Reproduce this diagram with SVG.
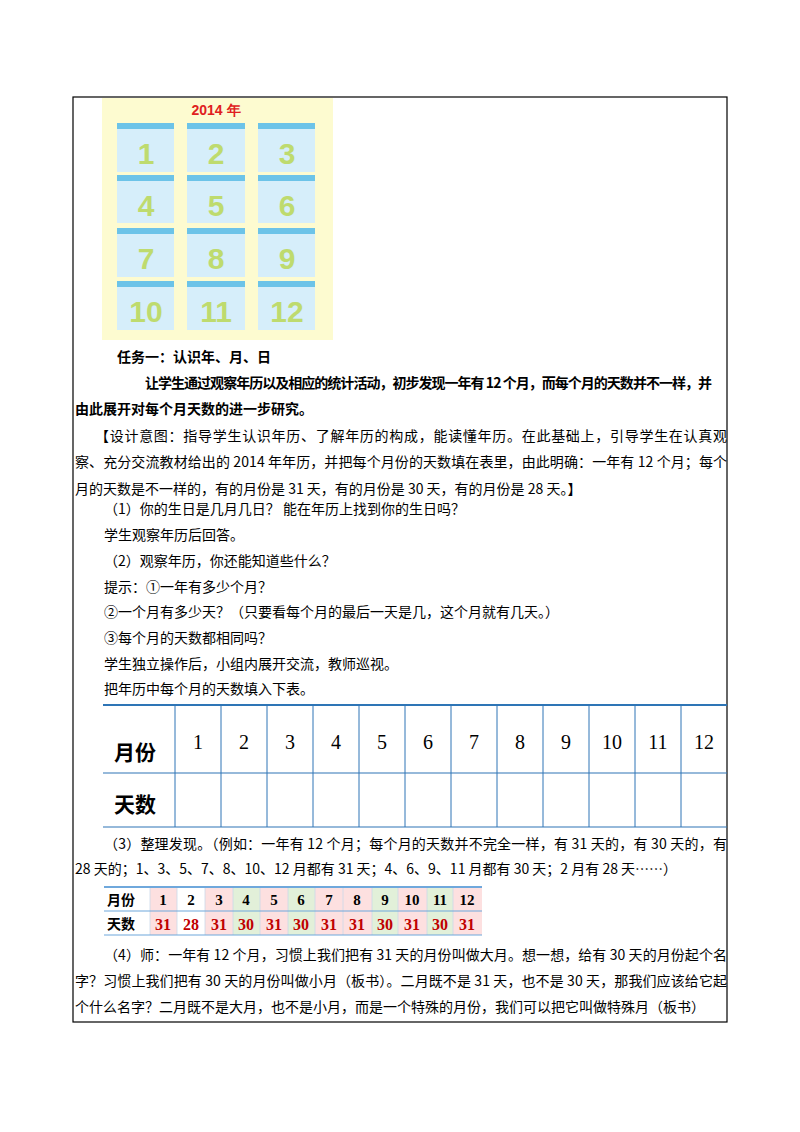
<svg xmlns="http://www.w3.org/2000/svg" width="800" height="1132" viewBox="0 0 800 1132">
<style>
.t{font-family:"Noto Sans CJK SC","Liberation Sans",sans-serif;font-size:14px;fill:#000}
.b{font-weight:bold}
.n{font-family:"Liberation Serif",serif;font-size:20px;text-anchor:middle}
.s{font-family:"Liberation Serif",serif;font-size:15px;font-weight:bold;text-anchor:middle}
.r{font-family:"Liberation Serif",serif;font-size:16px;font-weight:bold;fill:#c00000;text-anchor:middle}
.cal{fill:#d6eefa}
.hd{fill:#6cc3e8}
.g{font-family:"Liberation Sans",sans-serif;font-size:30px;font-weight:bold;fill:#b5d334;text-anchor:middle;opacity:.7}
</style>
<rect width="800" height="1132" fill="#fff"/>
<rect x="73" y="97" width="654" height="925" fill="none" stroke="#000" stroke-width="1.2"/>
<g id="calendar">
<rect x="102" y="98" width="231" height="242" fill="#fdfbd0"/>
<text x="216" y="115" font-family="Liberation Sans,sans-serif" font-size="14" font-weight="bold" fill="#e02020" text-anchor="middle">2014 年</text>
<g id="months">
<rect class="cal" x="117" y="123" width="57" height="49"/><rect class="hd" x="117" y="123" width="57" height="6"/>
<rect class="cal" x="187" y="123" width="58" height="49"/><rect class="hd" x="187" y="123" width="58" height="6"/>
<rect class="cal" x="258" y="123" width="57" height="49"/><rect class="hd" x="258" y="123" width="57" height="6"/>
<rect class="cal" x="117" y="175" width="57" height="48"/><rect class="hd" x="117" y="175" width="57" height="6"/>
<rect class="cal" x="187" y="175" width="58" height="48"/><rect class="hd" x="187" y="175" width="58" height="6"/>
<rect class="cal" x="258" y="175" width="57" height="48"/><rect class="hd" x="258" y="175" width="57" height="6"/>
<rect class="cal" x="117" y="228" width="57" height="49"/><rect class="hd" x="117" y="228" width="57" height="6"/>
<rect class="cal" x="187" y="228" width="58" height="49"/><rect class="hd" x="187" y="228" width="58" height="6"/>
<rect class="cal" x="258" y="228" width="57" height="49"/><rect class="hd" x="258" y="228" width="57" height="6"/>
<rect class="cal" x="117" y="281" width="57" height="49"/><rect class="hd" x="117" y="281" width="57" height="6"/>
<rect class="cal" x="187" y="281" width="58" height="49"/><rect class="hd" x="187" y="281" width="58" height="6"/>
<rect class="cal" x="258" y="281" width="57" height="49"/><rect class="hd" x="258" y="281" width="57" height="6"/>
<text class="g" x="146" y="164">1</text><text class="g" x="216" y="164">2</text><text class="g" x="287" y="164">3</text>
<text class="g" x="146" y="216">4</text><text class="g" x="216" y="216">5</text><text class="g" x="287" y="216">6</text>
<text class="g" x="146" y="269">7</text><text class="g" x="216" y="269">8</text><text class="g" x="287" y="269">9</text>
<text class="g" x="146" y="322">10</text><text class="g" x="216" y="322">11</text><text class="g" x="287" y="322">12</text>
</g>
</g>
<g id="text1">
<text class="t b" x="117" y="362">任务一：认识年、月、日</text>
<text class="t b" x="145" y="388" textLength="567">让学生通过观察年历以及相应的统计活动，初步发现一年有 12 个月，而每个月的天数并不一样，并</text>
<text class="t b" x="75" y="414">由此展开对每个月天数的进一步研究。</text>
<text class="t" x="95" y="441" textLength="632">【设计意图：指导学生认识年历、了解年历的构成，能读懂年历。在此基础上，引导学生在认真观</text>
<text class="t" x="75" y="467" textLength="652">察、充分交流教材给出的 2014 年年历，并把每个月份的天数填在表里，由此明确：一年有 12 个月；每个</text>
<text class="t" x="75" y="494">月的天数是不一样的，有的月份是 31 天，有的月份是 30 天，有的月份是 28 天。】</text>
<text class="t" x="104" y="514">（1）你的生日是几月几日？ 能在年历上找到你的生日吗？</text>
<text class="t" x="104" y="540">学生观察年历后回答。</text>
<text class="t" x="104" y="566">（2）观察年历，你还能知道些什么？</text>
<text class="t" x="104" y="592">提示：①一年有多少个月？</text>
<text class="t" x="104" y="617">②一个月有多少天？（只要看每个月的最后一天是几，这个月就有几天。）</text>
<text class="t" x="104" y="643">③每个月的天数都相同吗？</text>
<text class="t" x="104" y="669">学生独立操作后，小组内展开交流，教师巡视。</text>
<text class="t" x="104" y="694">把年历中每个月的天数填入下表。</text>
</g>
<g id="table1">
<line x1="103" y1="705" x2="727" y2="705" stroke="#2e75b6" stroke-width="2"/>
<line x1="103" y1="773" x2="727" y2="773" stroke="#2e75b6" stroke-width="1.2"/>
<line x1="103" y1="827" x2="727" y2="827" stroke="#2e75b6" stroke-width="1.2"/>
<g stroke="#2e75b6" stroke-width="1">
<line x1="175" y1="705" x2="175" y2="827"/><line x1="221" y1="705" x2="221" y2="827"/><line x1="267" y1="705" x2="267" y2="827"/><line x1="313" y1="705" x2="313" y2="827"/><line x1="359" y1="705" x2="359" y2="827"/><line x1="405" y1="705" x2="405" y2="827"/><line x1="451" y1="705" x2="451" y2="827"/><line x1="497" y1="705" x2="497" y2="827"/><line x1="543" y1="705" x2="543" y2="827"/><line x1="589" y1="705" x2="589" y2="827"/><line x1="635" y1="705" x2="635" y2="827"/><line x1="681" y1="705" x2="681" y2="827"/>
</g>
<text class="t b" x="114" y="760" style="font-size:21px">月份</text>
<text class="t b" x="114" y="812" style="font-size:21px">天数</text>
<text class="n" x="198" y="749">1</text><text class="n" x="244" y="749">2</text><text class="n" x="290" y="749">3</text><text class="n" x="336" y="749">4</text><text class="n" x="382" y="749">5</text><text class="n" x="428" y="749">6</text><text class="n" x="474" y="749">7</text><text class="n" x="520" y="749">8</text><text class="n" x="566" y="749">9</text><text class="n" x="612" y="749">10</text><text class="n" x="658" y="749">11</text><text class="n" x="704" y="749">12</text>
</g>
<g id="text2">
<text class="t" x="104" y="849" textLength="623">（3）整理发现。（例如：一年有 12 个月；每个月的天数并不完全一样，有 31 天的，有 30 天的，有</text>
<text class="t" x="75" y="874">28 天的；1、3、5、7、8、10、12 月都有 31 天；4、6、9、11 月都有 30 天；2 月有 28 天……）</text>
</g>
<g id="table2">
<rect x="150" y="888" width="27" height="47" fill="#fde0e0"/>
<rect x="205" y="888" width="28" height="47" fill="#fde0e0"/>
<rect x="233" y="888" width="27" height="47" fill="#e2f0d9"/>
<rect x="260" y="888" width="28" height="47" fill="#fde0e0"/>
<rect x="288" y="888" width="27" height="47" fill="#e2f0d9"/>
<rect x="315" y="888" width="57" height="47" fill="#fde0e0"/>
<rect x="372" y="888" width="26" height="47" fill="#e2f0d9"/>
<rect x="398" y="888" width="29" height="47" fill="#fde0e0"/>
<rect x="427" y="888" width="26" height="47" fill="#e2f0d9"/>
<rect x="453" y="888" width="29" height="47" fill="#fde0e0"/>
<g stroke="#c9d9ea" stroke-width="0.8">
<line x1="150" y1="888" x2="150" y2="935"/><line x1="177" y1="888" x2="177" y2="935"/><line x1="205" y1="888" x2="205" y2="935"/><line x1="233" y1="888" x2="233" y2="935"/><line x1="260" y1="888" x2="260" y2="935"/><line x1="288" y1="888" x2="288" y2="935"/><line x1="315" y1="888" x2="315" y2="935"/><line x1="343" y1="888" x2="343" y2="935"/><line x1="372" y1="888" x2="372" y2="935"/><line x1="398" y1="888" x2="398" y2="935"/><line x1="427" y1="888" x2="427" y2="935"/><line x1="453" y1="888" x2="453" y2="935"/>
</g>
<line x1="104" y1="887" x2="482" y2="887" stroke="#6fa8dc" stroke-width="2"/>
<line x1="104" y1="911" x2="482" y2="911" stroke="#6fa8dc" stroke-width="1.2"/>
<line x1="104" y1="935" x2="482" y2="935" stroke="#6fa8dc" stroke-width="1.2"/>
<text class="t b" x="107" y="905">月份</text>
<text class="t b" x="107" y="929">天数</text>
<text class="s" x="163" y="905">1</text><text class="s" x="191" y="905">2</text><text class="s" x="219" y="905">3</text><text class="s" x="246" y="905">4</text><text class="s" x="274" y="905">5</text><text class="s" x="301" y="905">6</text><text class="s" x="329" y="905">7</text><text class="s" x="357" y="905">8</text><text class="s" x="385" y="905">9</text><text class="s" x="412" y="905">10</text><text class="s" x="440" y="905">11</text><text class="s" x="467" y="905">12</text>
<text class="r" x="163" y="930">31</text><text class="r" x="191" y="930">28</text><text class="r" x="219" y="930">31</text><text class="r" x="246" y="930">30</text><text class="r" x="274" y="930">31</text><text class="r" x="301" y="930">30</text><text class="r" x="329" y="930">31</text><text class="r" x="357" y="930">31</text><text class="r" x="385" y="930">30</text><text class="r" x="412" y="930">31</text><text class="r" x="440" y="930">30</text><text class="r" x="467" y="930">31</text>
</g>
<g id="text3">
<text class="t" x="104" y="960" textLength="623">（4）师：一年有 12 个月，习惯上我们把有 31 天的月份叫做大月。想一想，给有 30 天的月份起个名</text>
<text class="t" x="75" y="986" textLength="652">字？习惯上我们把有 30 天的月份叫做小月（板书）。二月既不是 31 天，也不是 30 天，那我们应该给它起</text>
<text class="t" x="75" y="1012">个什么名字？二月既不是大月，也不是小月，而是一个特殊的月份，我们可以把它叫做特殊月（板书）</text>
</g>
</svg>
